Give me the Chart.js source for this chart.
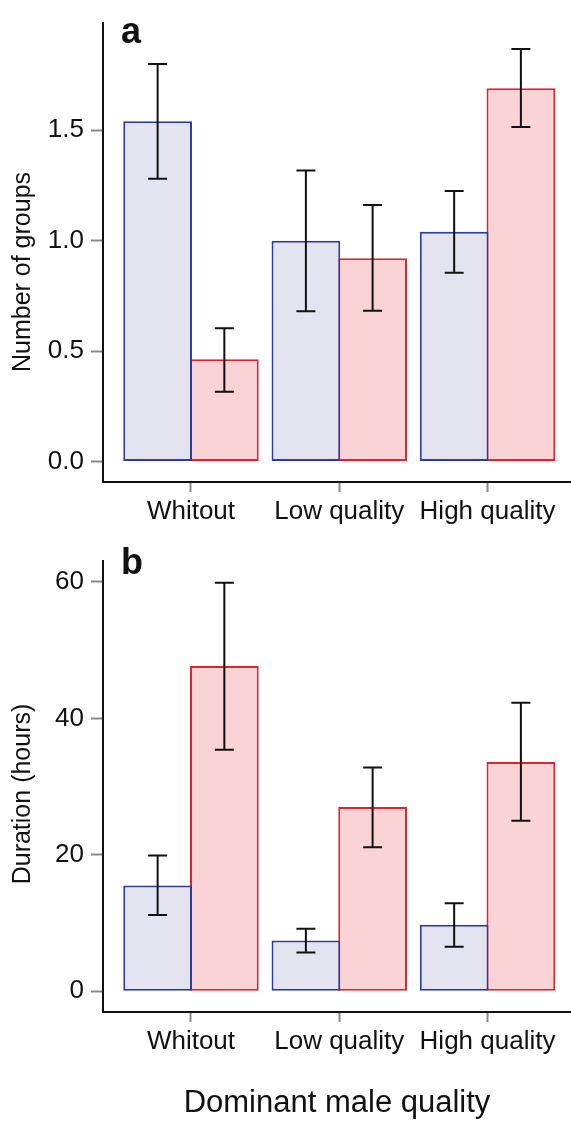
<!DOCTYPE html>
<html>
<head>
<meta charset="utf-8">
<script src="https://cdn.jsdelivr.net/npm/chart.js@4.4.1/dist/chart.umd.min.js"></script>
<style>
  body { margin: 0; background: #fff; }
  canvas { display: block; }
</style>
</head>
<body>
<canvas id="panel-a" width="571" height="538"></canvas>
<canvas id="panel-b" width="571" height="584"></canvas>
<script>
const categories = ["Whitout", "Low quality", "High quality"];

// panel a - number of groups (mean, error bar low/high)
const groupsBlue = [1.54, 1.00, 1.04];
const groupsBlueLow = [1.28, 0.68, 0.855];
const groupsBlueHigh = [1.80, 1.318, 1.225];
const groupsRed = [0.463, 0.92, 1.69];
const groupsRedLow = [0.316, 0.683, 1.514];
const groupsRedHigh = [0.604, 1.161, 1.867];
const groupsTicks = [0, 0.5, 1.0, 1.5];

// panel b - duration in hours
const hoursBlue = [15.5, 7.46, 9.74];
const hoursBlueLow = [11.2, 5.7, 6.53];
const hoursBlueHigh = [19.9, 9.17, 12.9];
const hoursRed = [47.7, 27.0, 33.6];
const hoursRedLow = [35.4, 21.1, 25.0];
const hoursRedHigh = [59.9, 32.8, 42.3];
const hoursTicks = [0, 20, 40, 60];

const FONT = '"Liberation Sans", Arial, Helvetica, sans-serif';
Chart.defaults.font.family = FONT;
Chart.defaults.color = "#111";

const BLUE = { edge: "#2d3c9f", fill: "#e4e4f0" };
const RED = { edge: "#e1232b", fill: "#f9d3d6" };

// error bars, panel letter and rotated y title
function extras(errors, letter, letterY, yTitle, titleY) {
  return {
    id: "extras",
    afterDatasetsDraw(chart) {
      const ctx = chart.ctx;
      const y = chart.scales.y;
      ctx.save();
      ctx.strokeStyle = "#111";
      ctx.lineWidth = 2;
      errors.forEach((err, d) => {
        chart.getDatasetMeta(d).data.forEach((bar, i) => {
          const top = y.getPixelForValue(err.high[i]);
          const bot = y.getPixelForValue(err.low[i]);
          ctx.beginPath();
          ctx.moveTo(bar.x, top); ctx.lineTo(bar.x, bot);
          ctx.moveTo(bar.x - 9.5, top); ctx.lineTo(bar.x + 9.5, top);
          ctx.moveTo(bar.x - 9.5, bot); ctx.lineTo(bar.x + 9.5, bot);
          ctx.stroke();
        });
      });
      ctx.fillStyle = "#111";
      ctx.font = "bold 36px " + FONT;
      ctx.textBaseline = "alphabetic";
      ctx.fillText(letter, 121, letterY);
      ctx.translate(23, titleY);
      ctx.rotate(-Math.PI / 2);
      ctx.font = "25px " + FONT;
      ctx.textAlign = "center";
      ctx.textBaseline = "middle";
      ctx.fillText(yTitle, 0, 0);
      ctx.restore();
    }
  };
}

function makePanel(id, p) {
  const points = vals => vals.map((v, i) => ({ x: i + 1, y: v }));
  const tickGrid = len => ({
    display: true, drawOnChartArea: false, offset: false,
    tickLength: len, tickColor: "#8a8a8a", tickWidth: 2
  });
  const border = { display: true, color: "#111", width: 2 };

  // bars a touch wider than their slot so the red edge sits on the blue one
  new Chart(document.getElementById(id), {
    type: "bar",
    data: {
      datasets: [
        { data: points(p.blue), backgroundColor: BLUE.fill, borderColor: BLUE.edge,
          borderWidth: 2, borderSkipped: false, categoryPercentage: 0.9, barPercentage: 1.03 },
        { data: points(p.red), backgroundColor: RED.fill, borderColor: RED.edge,
          borderWidth: 2, borderSkipped: false, categoryPercentage: 0.9, barPercentage: 1.03 }
      ]
    },
    options: {
      responsive: false,
      animation: false,
      devicePixelRatio: 1,
      layout: { padding: { top: p.top, left: 0, right: 0, bottom: 0 } },
      plugins: { legend: { display: false }, tooltip: { enabled: false } },
      scales: {
        x: {
          type: "linear",
          min: 0.4066,
          max: 3.563,
          offset: false,
          afterBuildTicks: s => { s.ticks = categories.map((c, i) => ({ value: i + 1 })); },
          afterFit: s => { s.height = p.xHeight; },
          ticks: {
            callback: v => categories[v - 1],
            font: { size: 26 }, color: "#111", padding: 4,
            autoSkip: false, maxRotation: 0, minRotation: 0
          },
          grid: tickGrid(10),
          border: border,
          title: {
            display: !!p.xTitle, text: p.xTitle || "",
            font: { size: 31 }, color: "#111", padding: { top: 0, bottom: 0 }
          }
        },
        y: {
          min: p.yMin,
          max: p.yMax,
          afterBuildTicks: s => { s.ticks = p.ticks.map(v => ({ value: v })); },
          afterFit: s => { s.width = 103; },
          ticks: { callback: p.fmt, font: { size: 26 }, color: "#111", padding: 7 },
          grid: tickGrid(12),
          border: border
        }
      }
    },
    plugins: [extras(
      [{ low: p.blueLow, high: p.blueHigh }, { low: p.redLow, high: p.redHigh }],
      p.letter, p.letterY, p.yTitle, p.titleY
    )]
  });
}

makePanel("panel-a", {
  blue: groupsBlue, blueLow: groupsBlueLow, blueHigh: groupsBlueHigh,
  red: groupsRed, redLow: groupsRedLow, redHigh: groupsRedHigh,
  ticks: groupsTicks, fmt: v => v.toFixed(1),
  yMin: -0.0925, yMax: 1.987, top: 10, xHeight: 56,
  letter: "a", letterY: 43, yTitle: "Number of groups", titleY: 272
});

makePanel("panel-b", {
  blue: hoursBlue, blueLow: hoursBlueLow, blueHigh: hoursBlueHigh,
  red: hoursRed, redLow: hoursRedLow, redHigh: hoursRedHigh,
  ticks: hoursTicks, fmt: v => String(v),
  yMin: -3.03, yMax: 63.13, top: 0, xHeight: 110,
  letter: "b", letterY: 36, yTitle: "Duration (hours)", titleY: 256,
  xTitle: "Dominant male quality"
});
</script>
</body>
</html>
